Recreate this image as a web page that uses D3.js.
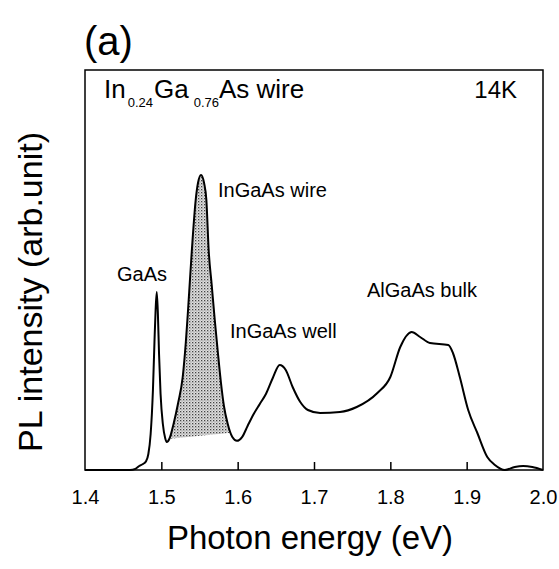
<!DOCTYPE html>
<html>
<head>
<meta charset="utf-8">
<script src="https://cdn.jsdelivr.net/npm/d3@7"></script>
<style>
  html, body { margin: 0; padding: 0; background: #fff; }
  svg { display: block; }
  text { font-family: "Liberation Sans", Arial, Helvetica, sans-serif; fill: #000; }
</style>
</head>
<body>
<svg id="chart" width="559" height="569"></svg>
<script>
// ---- data ----
const energy = [1.400, 1.440, 1.459, 1.466, 1.471, 1.476, 1.480, 1.483, 1.486, 1.489, 1.491, 1.4925, 1.494, 1.4955, 1.497, 1.499, 1.502, 1.505, 1.507, 1.511, 1.516, 1.522, 1.528, 1.532, 1.535, 1.540, 1.545, 1.548, 1.552, 1.556, 1.559, 1.562, 1.566, 1.570, 1.574, 1.578, 1.582, 1.587, 1.593, 1.599, 1.606, 1.613, 1.621, 1.629, 1.637, 1.646, 1.655, 1.663, 1.672, 1.682, 1.692, 1.708, 1.734, 1.756, 1.783, 1.800, 1.813, 1.828, 1.839, 1.852, 1.876, 1.882, 1.891, 1.902, 1.914, 1.927, 1.937, 1.950, 1.963, 1.974, 1.986, 2.000];
const intensity = [0, 0, 0, 0.3, 1.0, 1.5, 2.2, 4, 9, 20, 32, 40, 44.5, 39, 29, 19, 11.5, 8, 7, 8.0, 11.5, 16.75, 23.25, 31.75, 40, 55, 67.5, 71.75, 73.75, 71.75, 67.5, 55, 46.25, 37.5, 29.5, 22.0, 16.0, 11.5, 8.25, 7.3, 8.3, 11.0, 14.0, 16.5, 19.0, 23.0, 26.25, 25, 20.75, 17, 15, 14.25, 14.5, 15.75, 19.25, 23.25, 30.75, 34.5, 33.25, 31.75, 31.25, 29.25, 23.25, 15, 9.25, 3.25, 1.25, 0, 0.75, 1, 0.75, 0];
// baseline of the shaded InGaAs-wire peak (energy, intensity)
const shadeBaseE = [1.5155, 1.5855];
const shadeBaseI = [7.9, 9.2];
const xTicks = [1.4, 1.5, 1.6, 1.7, 1.8, 1.9, 2.0];
const peakLabels = ["GaAs", "InGaAs wire", "InGaAs well", "AlGaAs bulk"];

// ---- layout ----
const svg = d3.select("#chart");
const L = 85, R = 543, T = 70, B = 470;
const x = d3.scaleLinear().domain([1.4, 2.0]).range([L, R]);
const y = d3.scaleLinear().domain([0, 100]).range([B, T]);

const data = energy.map((e, i) => [e, intensity[i]]);
const line = d3.line().x(d => x(d[0])).y(d => y(d[1])).curve(d3.curveMonotoneX);

// stipple pattern
const defs = svg.append("defs");
const pat = defs.append("pattern").attr("id", "dots").attr("patternUnits", "userSpaceOnUse")
  .attr("width", 3).attr("height", 3);
pat.append("rect").attr("width", 3).attr("height", 3).attr("fill", "#e0e0e0");
pat.append("rect").attr("x", 0).attr("y", 0).attr("width", 1.3).attr("height", 1.3).attr("fill", "#444");
pat.append("rect").attr("x", 1.5).attr("y", 1.5).attr("width", 1).attr("height", 1).attr("fill", "#777");

// clip: area under the curve
const underArea = d3.area().x(d => x(d[0])).y0(y(0)).y1(d => y(d[1])).curve(d3.curveMonotoneX);
defs.append("clipPath").attr("id", "under").append("path").attr("d", underArea(data));

// shaded polygon above the slanted baseline
const slope = (shadeBaseI[1] - shadeBaseI[0]) / (shadeBaseE[1] - shadeBaseE[0]);
const baseAt = e => shadeBaseI[0] + slope * (e - shadeBaseE[0]);
const e0 = 1.505, e1 = 1.598;
const poly = [[e0, baseAt(e0)], [e1, baseAt(e1)], [e1, 100], [e0, 100]];
svg.append("path")
  .attr("d", "M" + poly.map(p => [x(p[0]), y(p[1])].join(",")).join("L") + "Z")
  .attr("fill", "url(#dots)")
  .attr("clip-path", "url(#under)");

// curve
svg.append("path").datum(data).attr("d", line)
  .attr("fill", "none").attr("stroke", "#000").attr("stroke-width", 2)
  .attr("stroke-linejoin", "round");

// frame
svg.append("rect").attr("x", L).attr("y", T).attr("width", R - L).attr("height", B - T)
  .attr("fill", "none").attr("stroke", "#000").attr("stroke-width", 1.5);

// x axis (inward ticks)
const xAxis = d3.axisBottom(x).tickValues(xTicks).tickSize(-8).tickPadding(0)
  .tickFormat(d3.format(".1f"));
const gx = svg.append("g").attr("transform", `translate(0,${B})`).call(xAxis);
gx.select(".domain").remove();
gx.selectAll(".tick line").attr("stroke-width", 1.5)
  .filter(d => d === 1.4 || d === 2.0).remove();
gx.selectAll(".tick text").attr("y", 34).attr("dy", 0)
  .style("font-size", "20px").style("font-family", "'Liberation Sans', Arial, sans-serif");

// axis titles
svg.append("text").attr("x", 310).attr("y", 549).attr("text-anchor", "middle")
  .style("font-size", "33px").text("Photon energy (eV)");
svg.append("text").attr("transform", `translate(42,292) rotate(-90)`)
  .attr("text-anchor", "middle").style("font-size", "34px").text("PL intensity (arb.unit)");

// panel label
svg.append("text").attr("x", 84).attr("y", 55).style("font-size", "40px").text("(a)");

// in-plot title with subscripts
const t = svg.append("text").attr("x", 104).attr("y", 98).style("font-size", "26px");
t.append("tspan").text("In");
t.append("tspan").attr("dy", 9).attr("dx", 2).style("font-size", "13px").text("0.24");
t.append("tspan").attr("dy", -9).attr("dx", 1).text("Ga");
t.append("tspan").attr("dy", 9).attr("dx", 5).style("font-size", "13px").text("0.76");
t.append("tspan").attr("dy", -9).text("As wire");
svg.append("text").attr("x", 517).attr("y", 98).attr("text-anchor", "end")
  .style("font-size", "24px").text("14K");

// peak labels
const labelPos = [[117, 281], [218, 197], [230, 338], [367, 297]];
svg.selectAll(".plabel").data(peakLabels).enter().append("text")
  .attr("class", "plabel")
  .attr("x", (d, i) => labelPos[i][0]).attr("y", (d, i) => labelPos[i][1])
  .style("font-size", "20px").text(d => d);
</script>
</body>
</html>
